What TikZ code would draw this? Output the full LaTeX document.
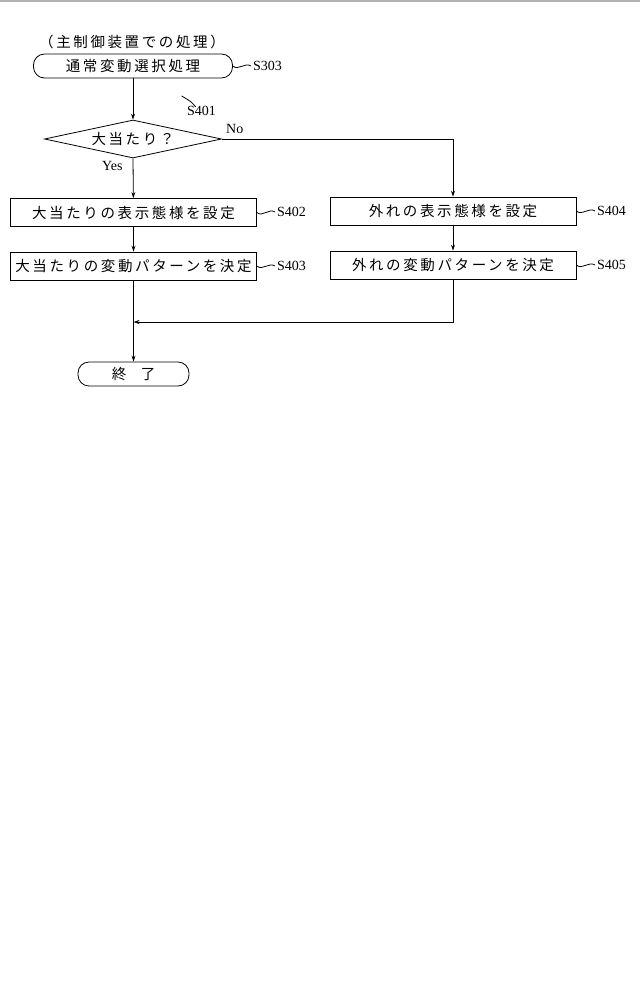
\documentclass[tikz,border=0pt]{standalone}
\usepackage{fontspec}
\setmainfont{Liberation Serif}
\newfontfamily\cjk{Noto Sans CJK JP}[LetterSpace=18]
\usetikzlibrary{shapes.geometric,arrows.meta}
\begin{document}
\begin{tikzpicture}[x=1pt,y=-1pt,
  every node/.style={font=\fontsize{14}{16}\selectfont},
  boxs/.style={draw,thick,minimum width=246,minimum height=28,inner sep=0,font=\cjk\fontsize{14.5}{16}\selectfont},
  term/.style={draw,thick,rounded corners=11,minimum height=24,inner sep=0,font=\cjk\fontsize{14.5}{16}\selectfont},
  lab/.style={font=\fontsize{14}{16}\selectfont,anchor=west,inner sep=0},
  arr/.style={thick,-{Stealth[length=6pt,width=4pt]}},
  ln/.style={thick}]
\useasboundingbox (0,0) rectangle (640,989);
\draw[gray!60,line width=1.5pt] (0,1) -- (640,1);
\node[font=\cjk\fontsize{14.5}{16}\selectfont] (cap) at (132,42) {（主制御装置での処理）};
\node[term,minimum width=199] (st) at (133,66) {通常変動選択処理};
\node[draw,thick,diamond,aspect=4.6,minimum width=177,minimum height=38,inner sep=0] (d) at (133,139) {};
\node[font=\cjk\fontsize{14.5}{16}\selectfont] (dt) at (133,139) {大当たり？};
\node[boxs] (b2) at (133.5,212.5) {大当たりの表示態様を設定};
\node[boxs] (b3) at (133.5,266) {大当たりの変動パターンを決定};
\node[boxs] (b4) at (453,211) {外れの表示態様を設定};
\node[boxs] (b5) at (453,265) {外れの変動パターンを決定};
\node[term,minimum width=111] (en) at (133.5,374) {終\hspace{1em}了};
\node[lab] (l303) at (253,66) {S303};
\node[lab] (l401) at (187,111) {S401};
\node[lab] (l402) at (277,212) {S402};
\node[lab] (l403) at (277,266) {S403};
\node[lab] (l404) at (597,211) {S404};
\node[lab] (l405) at (597,265) {S405};
\node[lab] (no) at (226,129) {No};
\node[lab] (yes) at (102,166) {Yes};
\foreach \b/\l in {st/l303,b2/l402,b3/l403,b4/l404,b5/l405}
  \draw[ln] (\b.east) .. controls ([xshift=5,yshift=-5]\b.east) and ([xshift=-8,yshift=4]\l.west) .. ([xshift=-2]\l.west);
\draw[ln] ([xshift=-6,yshift=9]l401.south) .. controls ([xshift=-10,yshift=14]l401.south) .. ([xshift=-20,yshift=20]l401.south);
\draw[arr] (st) -- (d.north);
\draw[arr] (d.south) -- (b2);
\draw[arr] (b2) -- (b3);
\draw[arr] (b4) -- (b5);
\draw[arr] (d.east) -| (b4.north);
\coordinate (m) at (133.5,322);
\draw[arr] (b5.south) |- (m);
\draw[arr] (b3.south) -- (en.north);
\end{tikzpicture}
\end{document}
